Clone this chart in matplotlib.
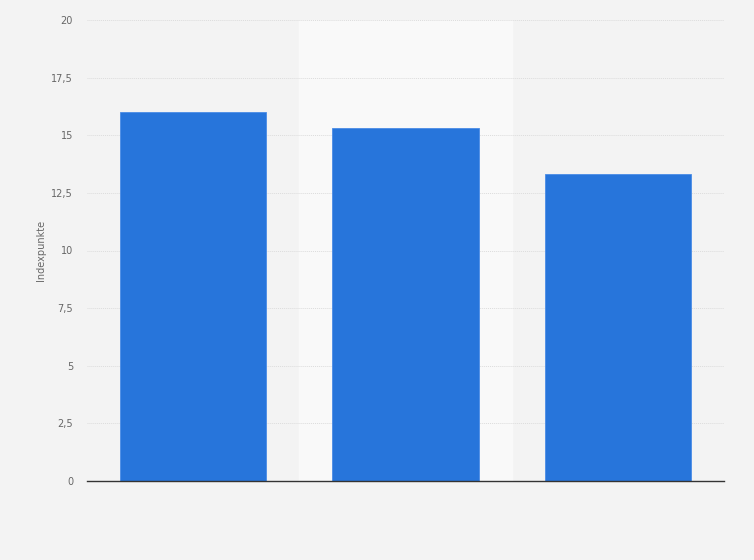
import matplotlib.pyplot as plt

# Werte
kategorien = ['A', 'B', 'C']
werte = [16.0, 15.3, 13.3]
y_ticks = [0, 2.5, 5, 7.5, 10, 12.5, 15, 17.5, 20]
y_tick_labels = ['0', '2,5', '5', '7,5', '10', '12,5', '15', '17,5', '20']

fig = plt.figure(figsize=(7.54, 5.60), dpi=100)
fig.patch.set_facecolor('#f3f3f3')
ax = fig.add_axes([87 / 754, 79 / 560, 637 / 754, 461 / 560])
ax.set_facecolor('#f3f3f3')

x = list(range(len(kategorien)))
# hover-Hervorhebung der mittleren Spalte
ax.axvspan(0.5, 1.5, color='#f9f9f9', zorder=0)

ax.bar(x, werte, width=0.69, color='#2775db', edgecolor='#4a8ce6',
       linewidth=0.6, zorder=3)

ax.set_xlim(-0.5, 2.5)
ax.set_ylim(0, 20)
ax.set_yticks(y_ticks)
ax.set_yticklabels(y_tick_labels, color='#666666', fontsize=7)
ax.set_xticks([])
ax.tick_params(axis='y', length=0, pad=10)
ax.grid(axis='y', color='#dcdcdc', linestyle=(0, (1, 1)), linewidth=0.7, zorder=1)

for s in ['top', 'right', 'left']:
    ax.spines[s].set_visible(False)
ax.spines['bottom'].set_color('#333333')
ax.spines['bottom'].set_linewidth(1.0)
ax.spines['bottom'].set_zorder(4)

ax.set_ylabel('Indexpunkte', color='#666666', fontsize=7, labelpad=4)

fig.savefig('out.png', dpi=100, facecolor=fig.get_facecolor())
